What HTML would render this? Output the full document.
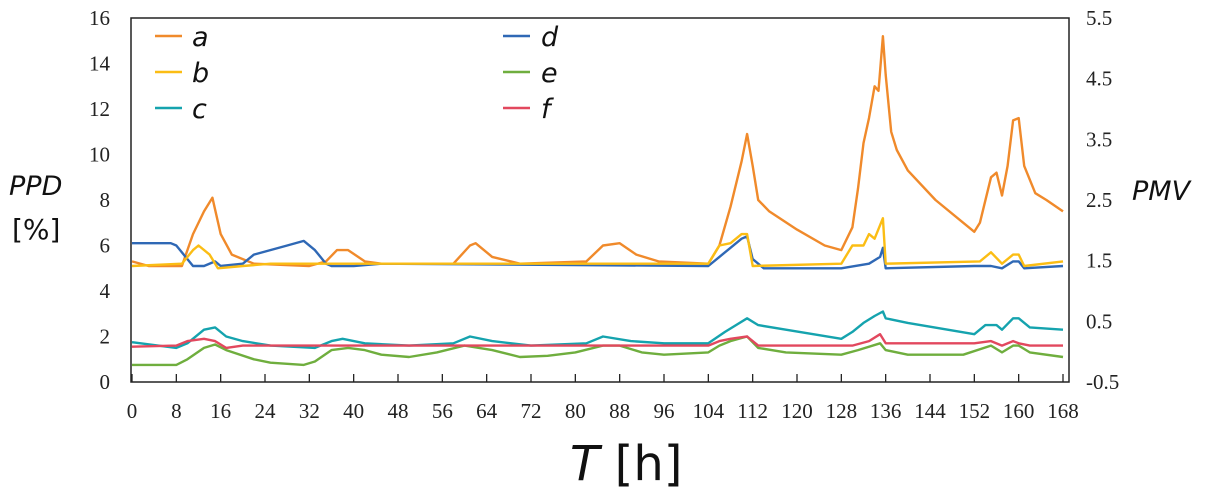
<!DOCTYPE html>
<html><head><meta charset="utf-8"><style>
body{margin:0;background:#fff;width:1215px;height:495px;overflow:hidden}
svg{display:block}
.t{font-family:"Liberation Serif",serif;font-size:21px;fill:#222}
.s{font-family:"DejaVu Sans","Liberation Sans",sans-serif;font-style:italic;fill:#111}
</style></head><body>
<svg id="c" width="1215" height="495" xmlns="http://www.w3.org/2000/svg">
<rect x="131" y="18" width="938" height="364" fill="none" stroke="#222" stroke-width="1.5"/>
<g id="ax"></g><g id="ser" fill="none" stroke-width="2.4" stroke-linejoin="round"></g>
<g stroke-width="2.5">
<line x1="155" y1="36" x2="182" y2="36" stroke="#f08a2b"/>
<line x1="155" y1="72" x2="182" y2="72" stroke="#fbbd14"/>
<line x1="155" y1="108" x2="182" y2="108" stroke="#15a3ae"/>
<line x1="503" y1="36" x2="530" y2="36" stroke="#2f68b5"/>
<line x1="503" y1="72" x2="530" y2="72" stroke="#6fae3e"/>
<line x1="503" y1="108" x2="530" y2="108" stroke="#e2485e"/>
</g>
<g class="s" font-size="27">
<text x="192" y="46">a</text><text x="192" y="82">b</text><text x="192" y="118">c</text>
<text x="541" y="46">d</text><text x="541" y="82">e</text><text x="541" y="118">f</text>
</g>
<g class="s" font-size="27"><text x="9" y="195">PPD</text><text x="1132" y="200">PMV</text></g>
<text x="12" y="239" font-family="DejaVu Sans,sans-serif" font-size="28" fill="#111">[%]</text>
<text x="570" y="480" font-family="DejaVu Sans,sans-serif" font-size="48" fill="#111"><tspan font-style="italic">T</tspan> [h]</text>
</svg>
<script>
var X=h=>132+h*(931/168),Y=v=>382-v*22.75;
var ax=document.getElementById('ax'),h='';
for(var i=0;i<=16;i+=2)h+='<text class="t" x="110" y="'+(Y(i)+7)+'" text-anchor="end">'+i+'</text>';
for(var k=0;k<=6;k++){var v=-0.5+k;h+='<text class="t" x="1086" y="'+(382-k*60.67+7)+'">'+(v.toFixed(1))+'</text>';}
for(var t=0;t<=168;t+=8){h+='<line x1="'+X(t)+'" y1="382" x2="'+X(t)+'" y2="374" stroke="#222" stroke-width="1.3"/><text class="t" x="'+X(t)+'" y="418" text-anchor="middle">'+t+'</text>';}
ax.innerHTML=h;
var S={
"#f08a2b":[0,5.3,3,5.1,9,5.1,11,6.5,13,7.5,14.5,8.1,16,6.5,18,5.6,22,5.2,32,5.1,35,5.3,37,5.8,39,5.8,42,5.3,45,5.2,58,5.2,61,6,62,6.1,65,5.5,70,5.2,82,5.3,85,6,88,6.1,91,5.6,95,5.3,104,5.2,106,6,108,7.7,110,9.7,111,10.9,112,9.5,113,8,115,7.5,120,6.7,125,6,128,5.8,130,6.8,131,8.5,132,10.5,133,11.6,134,13,134.7,12.8,135.5,15.2,136,13.5,137,11,138,10.2,140,9.3,145,8,150,7,152,6.6,153,7,155,9,156,9.2,157,8.2,158,9.5,159,11.5,160,11.6,161,9.5,163,8.3,165,8,168,7.5],
"#2f68b5":[0,6.1,7,6.1,8,6,10,5.4,11,5.1,13,5.1,15,5.3,16,5.1,20,5.2,22,5.6,28,6,31,6.2,33,5.8,35,5.2,36,5.1,40,5.1,45,5.2,104,5.1,106,5.5,108,5.9,110,6.3,111,6.4,112,5.4,114,5,128,5,133,5.2,135,5.5,135.5,5.9,136,5,152,5.1,155,5.1,157,5,159,5.3,160,5.3,161,5,168,5.1],
"#fbbd14":[0,5.1,9,5.2,11,5.8,12,6,14,5.6,15.5,5,20,5.1,25,5.2,104,5.2,106,6,108,6.1,110,6.5,111,6.5,112,5.1,128,5.2,130,6,132,6,133,6.5,134,6.3,135.5,7.2,136,5.2,153,5.3,155,5.7,157,5.2,159,5.6,160,5.6,161,5.1,168,5.3],
"#15a3ae":[0,1.75,8,1.5,10,1.7,13,2.3,15,2.4,17,2,20,1.8,25,1.6,33,1.5,36,1.8,38,1.9,42,1.7,50,1.6,58,1.7,61,2,65,1.8,72,1.6,82,1.7,85,2,90,1.8,96,1.7,104,1.7,107,2.2,109,2.5,111,2.8,113,2.5,118,2.3,128,1.9,130,2.2,132,2.6,134,2.9,135.5,3.1,136,2.8,140,2.6,152,2.1,154,2.5,156,2.5,157,2.3,159,2.8,160,2.8,162,2.4,168,2.3],
"#6fae3e":[0,.75,8,.75,10,1,13,1.5,15,1.65,17,1.4,22,1,25,.85,31,.75,33,.9,36,1.4,39,1.5,42,1.4,45,1.2,50,1.1,55,1.3,60,1.6,65,1.4,70,1.1,75,1.15,80,1.3,85,1.6,88,1.6,92,1.3,96,1.2,104,1.3,106,1.6,108,1.8,111,2,113,1.5,118,1.3,128,1.2,131,1.4,135,1.7,136,1.4,140,1.2,150,1.2,155,1.6,157,1.3,159,1.6,160,1.6,162,1.3,168,1.1],
"#e2485e":[0,1.55,8,1.6,10,1.8,13,1.9,15,1.8,17,1.5,20,1.6,104,1.6,106,1.8,108,1.9,111,2,113,1.6,130,1.6,133,1.8,135,2.1,136,1.7,152,1.7,155,1.8,157,1.6,159,1.8,160,1.7,162,1.6,168,1.6]};
var g=document.getElementById('ser'),o='';
for(var c in S){var a=S[c],p=[];for(var j=0;j<a.length;j+=2)p.push(X(a[j]).toFixed(1)+','+Y(a[j+1]).toFixed(1));o+='<polyline stroke="'+c+'" points="'+p.join(' ')+'"/>';}
g.innerHTML=o;
</script>
</body></html>
